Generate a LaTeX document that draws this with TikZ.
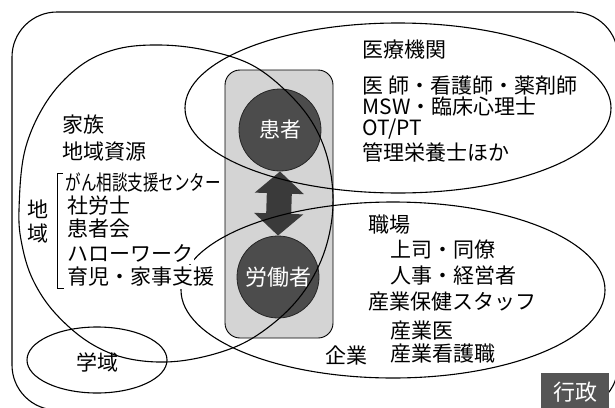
\documentclass[tikz,border=0pt]{standalone}
\usepackage{fontspec}
\usepackage{graphicx}
\setmainfont{Noto Sans CJK JP}
\usetikzlibrary{arrows.meta,shapes.geometric}
\definecolor{panelgray}{HTML}{D4D4D4}
\definecolor{ballgray}{HTML}{4C4C4C}
\definecolor{arrowgray}{HTML}{3A3A3A}
\definecolor{boxgray}{HTML}{555555}
\begin{document}
\begin{tikzpicture}[x=1pt,y=-1pt,line width=1.1pt,
  lbl/.style={anchor=west,inner sep=0pt,font=\fontsize{21}{24}\selectfont},
  lblw/.style={lbl,fill=white,inner ysep=2pt},
  ball/.style={circle,draw=black!85,line width=0.8pt,fill=ballgray,text=white,inner sep=0pt},
  oval/.style={ellipse,draw,inner sep=0pt},
  fat/.style={draw=arrowgray,line width=25pt,
    {Triangle[width=48pt,length=22pt]}-{Triangle[width=48pt,length=22pt]}}]
\useasboundingbox (0,0) rectangle (615,407);
% outer frame
\draw[rounded corners=45pt] (12,12) rectangle (618,410);
% central panel
\node[draw,line width=0.9pt,fill=panelgray,rounded corners=15pt,minimum width=108pt,minimum height=268pt] (panel) at (279,204) {};
% balls
\node[ball,minimum size=82pt,font=\fontsize{21}{24}\selectfont] (kanja) at (280,130) {患者};
\node[ball,minimum size=82pt,font=\fontsize{22}{24}\selectfont] (rodo) at (278,277) {労働者};
\draw[fat] (kanja.south) -- (rodo.north);
% ellipses
\node[oval,minimum width=426pt,minimum height=170pt] (iryo) at (398,108) {};
\node[oval,minimum width=424pt,minimum height=176pt] (kigyo) at (393,290) {};
\node[oval,minimum width=140pt,minimum height=66pt] (gakuiki) at (97,360) {};
\draw plot[smooth cycle,tension=0.6] coordinates {
 (19,210) (25,150) (47,101) (80,66) (117,49) (160,45) (205,50) (250,64)
 (285,90) (312,122) (328,160) (333,205) (325,250) (305,290) (275,322)
 (235,347) (180,361) (130,359) (90,343) (55,313) (33,280) (22,245)};
% left texts
\node[lbl] (kazoku) at (62,125) {家族};
\node[lbl] (shigen) at (62,152) {地域資源};
\node[lbl] (ganc) at (65,182) {\scalebox{0.74}[1]{がん相談支援センター}};
\node[lbl] (sharo) at (67,206) {社労士};
\node[lbl] (kanjakai) at (67,229) {患者会};
\node[lblw] (hello) at (67,253) {ハローワーク};
\node[lblw] (ikuji) at (67,277) {育児・家事支援};
\node[inner sep=0pt,align=center,font=\fontsize{21}{24}\selectfont] (chiiki) at (38,222) {地\\域};
\draw[line width=0.9pt] (63,173) -- (57,173) -- (57,288) -- (64,288);
% medical
\node[lbl] (iryoT) at (362,50) {医療機関};
\node[lbl] (ishi) at (362,86) {医 師・看護師・薬剤師};
\node[lbl] (msw) at (362,107) {MSW・臨床心理士};
\node[lbl] (otpt) at (362,129) {OT/PT};
\node[lbl] (eiyo) at (362,152) {管理栄養士ほか};
% company
\node[lbl] (shokuba) at (368,225) {職場};
\node[lbl] (joshi) at (390,250) {上司・同僚};
\node[lbl] (jinji) at (390,276) {人事・経営者};
\node[lbl] (sangyo) at (368,302) {産業保健スタッフ};
\node[lbl] (sangyoi) at (390,331) {産業医};
\node[lbl] (kango) at (390,354) {産業看護職};
\node[lbl] (kigyoT) at (325,355) {企業};
\node[inner sep=0pt,font=\fontsize{21}{24}\selectfont] (gakuikiT) at (97,362) {学域};
% admin
\node[fill=boxgray,text=white,minimum width=68pt,minimum height=38pt,inner sep=0pt,font=\fontsize{22}{24}\selectfont] (gyosei) at (575,392) {行政};
\end{tikzpicture}
\end{document}
